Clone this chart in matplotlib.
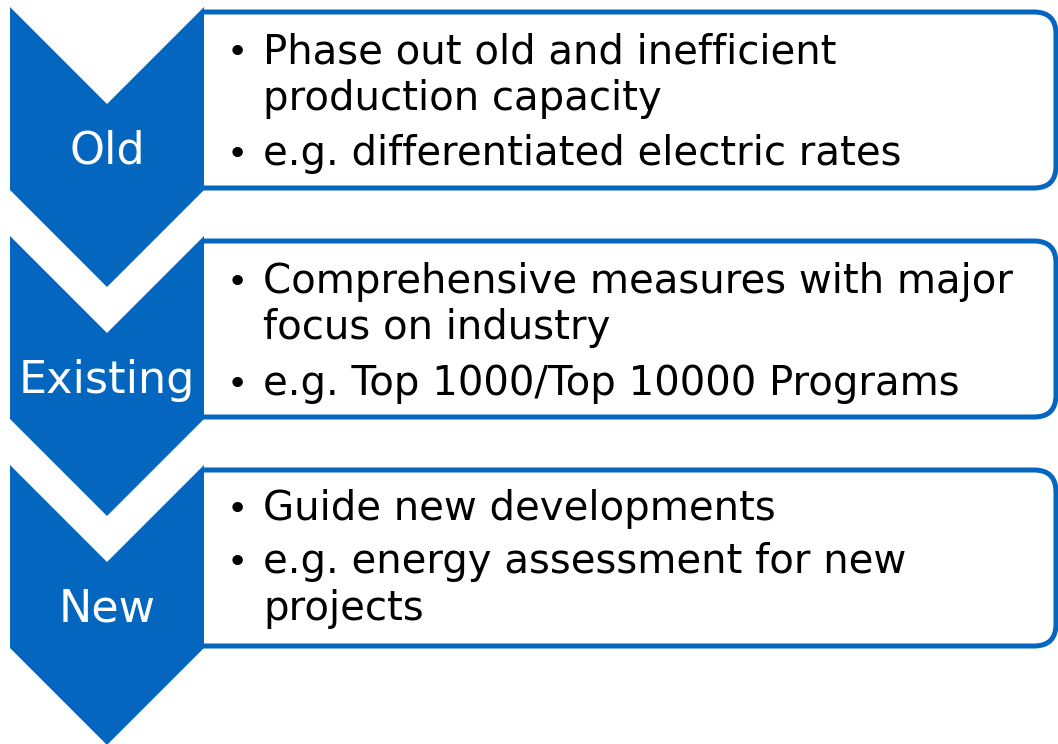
import matplotlib
matplotlib.use('Agg')
import matplotlib.pyplot as plt
from matplotlib.patches import Polygon, FancyBboxPatch, Rectangle

# stage labels and their bullet lines (False = continuation line, no bullet)
stages = ['Old', 'Existing', 'New']
bullets = [
    [('Phase out old and inefficient', True), ('production capacity', False),
     ('e.g. differentiated electric rates', True)],
    [('Comprehensive measures with major', True), ('focus on industry', False),
     ('e.g. Top 1000/Top 10000 Programs', True)],
    [('Guide new developments', True), ('e.g. energy assessment for new', True),
     ('projects', False)],
]
baselines = [[63, 110, 165], [293, 339, 395], [520, 573, 620]]

blue = '#0566C0'
W, H = 1058, 744

fig = plt.figure(figsize=(W / 100, H / 100), dpi=100)
ax = fig.add_axes([0, 0, 1, 1])
ax.set_xlim(0, W)
ax.set_ylim(H, 0)
ax.axis('off')

font = 'DejaVu Sans'
step = 229
for i, label in enumerate(stages):
    top = 7 + i * step
    # box behind the chevron, left corners cut off
    bt, bb = 12 + i * step, 188 + i * step
    box = FancyBboxPatch((160, bt), 896, bb - bt,
                         boxstyle='round,pad=0,rounding_size=22',
                         fc='white', ec=blue, lw=3.6, zorder=1)
    ax.add_patch(box)
    clip = Rectangle((202, 0), W, H, transform=ax.transData)
    box.set_clip_path(clip)
    # chevron pointing down
    x0, x1, xm, d = 10, 204, 107, 97
    side = 183
    pts = [(x0, top), (xm, top + d), (x1, top), (x1, top + side),
           (xm, top + side + d), (x0, top + side)]
    ax.add_patch(Polygon(pts, closed=True, fc=blue, ec='none', zorder=2))
    ax.text(xm, top + 157, label, color='white', fontsize=32,
            family=font, ha='center', va='baseline', zorder=3)
    for (txt, has_bullet), yb in zip(bullets[i], baselines[i]):
        if has_bullet:
            ax.text(237, yb, '\u2022', fontsize=26, family=font,
                    ha='center', va='baseline', zorder=3)
        ax.text(263, yb, txt, fontsize=29, family=font,
                ha='left', va='baseline', zorder=3)

fig.savefig('out.png', dpi=100)
